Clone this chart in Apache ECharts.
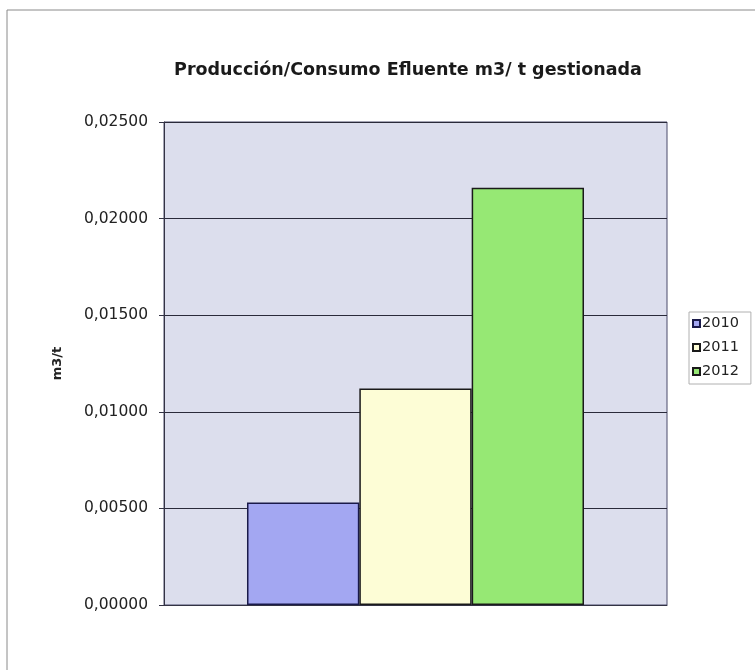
<!DOCTYPE html>
<html>
<head>
<meta charset="utf-8">
<script src="https://cdn.jsdelivr.net/npm/echarts@6/dist/echarts.min.js"></script>
<style>
  html, body { margin: 0; padding: 0; background: #ffffff; }
  #chart { width: 755px; height: 670px; }
</style>
</head>
<body>
<div id="chart"></div>
<script>
// Effluent production/consumption per managed tonne, by year
const categories = [''];
const years = ['2010', '2011', '2012'];
const values = [0.0053, 0.0112, 0.0216];
const yTicks = { min: 0, max: 0.025, interval: 0.005 };

const fills = ['#a3a7f2', '#fdfdd6', '#96e874'];
const borders = ['#1a1a4a', '#1a1a1a', '#1a1a1a'];
const font = 'DejaVu Sans, Liberation Sans, Arial';

const chart = echarts.init(document.getElementById('chart'));

const series = years.map((y, i) => ({
  name: y,
  type: 'bar',
  data: [values[i]],
  barGap: '0%',
  barCategoryGap: '33%',
  itemStyle: { color: fills[i], borderColor: borders[i], borderWidth: 1.5 },
  emphasis: { disabled: true }
}));

chart.setOption({
  animation: false,
  backgroundColor: '#ffffff',
  title: {
    text: 'Producción/Consumo Efluente m3/ t gestionada',
    left: 403,
    textAlign: 'center',
    top: 56,
    textStyle: { fontFamily: font, fontSize: 17.5, fontWeight: 'bold', color: '#1a1a1a' }
  },
  legend: {
    orient: 'vertical',
    left: 689,
    top: 312,
    padding: [4, 12, 5, 3],
    borderColor: '#b0b0b0',
    borderWidth: 1,
    itemWidth: 7,
    itemHeight: 7,
    itemGap: 9,
    icon: 'rect',
    textStyle: { fontFamily: font, fontSize: 14.5, lineHeight: 15, color: '#222', padding: [0, 0, 0, -3] },
    data: years
  },
  grid: {
    left: 164, right: 88, top: 122, bottom: 65,
    show: true,
    backgroundColor: '#dcdeed',
    borderColor: '#4a4a6a',
    borderWidth: 1
  },
  xAxis: {
    type: 'category',
    data: categories,
    axisLine: { lineStyle: { color: '#333344', width: 1 } },
    axisTick: { show: false },
    axisLabel: { show: false }
  },
  yAxis: {
    type: 'value',
    min: yTicks.min,
    max: yTicks.max,
    interval: yTicks.interval,
    name: 'm3/t',
    nameLocation: 'middle',
    nameGap: 100,
    nameRotate: 90,
    nameTextStyle: { fontFamily: font, fontSize: 13, fontWeight: 'bold', color: '#222' },
    axisLine: { show: true, lineStyle: { color: '#333344', width: 1 } },
    axisTick: { show: true, length: 5, lineStyle: { color: '#333344' } },
    axisLabel: {
      fontFamily: font,
      fontSize: 15.5,
      color: '#222',
      margin: 16,
      formatter: v => v.toFixed(5).replace('.', ',')
    },
    splitLine: { lineStyle: { color: '#2a2a3a', width: 1 } }
  },
  graphic: [{
    type: 'polyline',
    shape: { points: [[7, 670], [7, 10], [755, 10]] },
    style: { stroke: '#8a8a8a', lineWidth: 1, fill: null }
  }],
  series: series
});
</script>
</body>
</html>
